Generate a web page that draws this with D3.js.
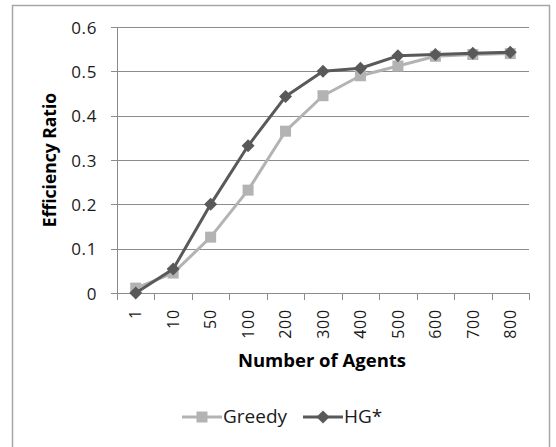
<!DOCTYPE html>
<html><head><meta charset="utf-8">
<script src="https://cdn.jsdelivr.net/npm/d3@7"></script>
<style>body{margin:0;background:#fff}svg{display:block}</style>
</head><body>
<svg id="c" width="556" height="447"></svg>
<script>
const categories = ["1","10","50","100","200","300","400","500","600","700","800"];
const greedy = [0.011,0.045,0.126,0.232,0.365,0.445,0.49,0.512,0.534,0.538,0.54];
const hg = [0.0,0.054,0.2,0.332,0.443,0.5,0.507,0.535,0.538,0.541,0.543];
const yTicks = [0,0.1,0.2,0.3,0.4,0.5,0.6];
const seriesNames = ["Greedy","HG*"];

const svg = d3.select("#c");
const font = "'Open Sans', 'Liberation Sans', sans-serif";
const gridC = "#8c8c8c";
const cG = "#b3b3b3", cH = "#595959";
const txtC = "#1a1a1a";

svg.append("rect").attr("x",12.5).attr("y",5.5).attr("width",537).attr("height",460)
  .attr("fill","#fff").attr("stroke","#a6a6a6").attr("stroke-width",1.5);

const x = d3.scaleBand().domain(categories).range([117,529]);
const y = d3.scaleLinear().domain([0,0.6]).range([293,27]);

// gridlines
svg.append("g").selectAll("line").data(yTicks).join("line")
  .attr("x1",111).attr("x2",529)
  .attr("y1",d=>Math.round(y(d))+0.5).attr("y2",d=>Math.round(y(d))+0.5)
  .attr("stroke",gridC).attr("stroke-width",1);
// y axis line
svg.append("line").attr("x1",117.5).attr("x2",117.5).attr("y1",y(0.6)).attr("y2",y(0))
  .attr("stroke",gridC);
// y labels
const yAxis = d3.axisLeft(y).tickValues(yTicks).tickSize(0).tickPadding(0).tickFormat(d3.format(".1f"));
const yg = svg.append("g").attr("transform","translate(97,0)").call(yAxis);
yg.select(".domain").remove();
yg.selectAll("text").attr("font-family",font).attr("font-size",17).attr("fill",txtC)
  .attr("letter-spacing",0.6).attr("dy","0.36em");
yg.selectAll("text").filter(d=>d===0).text("0");

// x ticks at band boundaries
const bounds = categories.map(c=>x(c)).concat([x.range()[1]]);
svg.append("g").selectAll("line").data(bounds).join("line")
  .attr("x1",d=>Math.round(d)+0.5).attr("x2",d=>Math.round(d)+0.5)
  .attr("y1",293).attr("y2",300).attr("stroke",gridC);

// x labels (rotated, reading bottom to top)
const xAxis = d3.axisBottom(x).tickSize(0).tickPadding(0);
const xg = svg.append("g").attr("transform","translate(0,309)").call(xAxis);
xg.select(".domain").remove();
xg.selectAll("text").attr("font-family",font).attr("font-size",16).attr("fill",txtC)
  .attr("letter-spacing",0.8)
  .attr("transform","rotate(-90)").attr("text-anchor","end").attr("x",0).attr("y",0).attr("dy","0.36em");

// titles
svg.append("text").attr("transform","translate(56,160) rotate(-90)").attr("text-anchor","middle")
  .attr("font-family",font).attr("font-weight","bold").attr("font-size",17.5).attr("fill","#000")
  .text("Efficiency Ratio");
svg.append("text").attr("x",322).attr("y",367).attr("text-anchor","middle")
  .attr("font-family",font).attr("font-weight","bold").attr("font-size",18.5).attr("fill","#000")
  .text("Number of Agents");

const cx = c => x(c)+x.bandwidth()/2;
const line = d3.line().x((d,i)=>cx(categories[i])).y(d=>y(d));
const sq = d3.symbol().type(d3.symbolSquare).size(121);
const dm = {draw:(ctx,size)=>{const r=Math.sqrt(size/2);ctx.moveTo(0,-r);ctx.lineTo(r,0);ctx.lineTo(0,r);ctx.lineTo(-r,0);ctx.closePath();}};
const dmSym = d3.symbol().type(dm).size(84);

function drawSeries(vals,color,sym){
  svg.append("path").datum(vals).attr("d",line).attr("fill","none").attr("stroke",color)
    .attr("stroke-width",3).attr("stroke-linejoin","round");
  svg.append("g").selectAll("path").data(vals).join("path")
    .attr("transform",(d,i)=>`translate(${cx(categories[i])},${y(d)})`)
    .attr("d",sym).attr("fill",color);
}
drawSeries(greedy,cG,sq);
drawSeries(hg,cH,dmSym);

// legend
const leg = [{n:seriesNames[0],c:cG,s:sq,x0:182},{n:seriesNames[1],c:cH,s:dmSym,x0:303}];
const lg = svg.append("g");
leg.forEach(l=>{
  lg.append("line").attr("x1",l.x0).attr("x2",l.x0+40).attr("y1",417).attr("y2",417)
    .attr("stroke",l.c).attr("stroke-width",3);
  lg.append("path").attr("transform",`translate(${l.x0+20},417)`).attr("d",l.s).attr("fill",l.c);
  lg.append("text").attr("x",l.x0+41).attr("y",423)
    .attr("font-family",font).attr("font-size",19).attr("fill",txtC).text(l.n);
});
</script>
</body></html>
